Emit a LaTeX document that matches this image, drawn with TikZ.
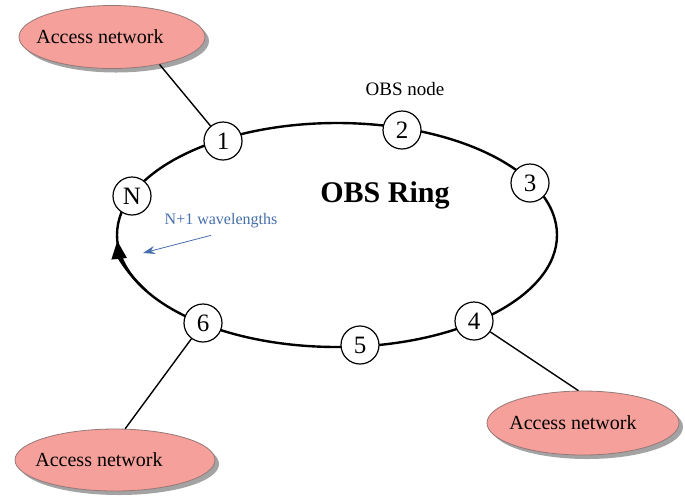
\documentclass[tikz,border=0pt]{standalone}
\usepackage{fontspec}
\setmainfont{Liberation Serif}
\usetikzlibrary{shapes.geometric,shadows,arrows.meta}
\definecolor{accfill}{RGB}{245,160,154}
\definecolor{accline}{RGB}{150,120,120}
\definecolor{wlblue}{RGB}{70,110,170}
\tikzset{
  obsnode/.style={circle,draw,fill=white,line width=0.6pt,minimum size=19pt,inner sep=0pt,font=\fontsize{12.5}{13}\selectfont},
  accnet/.style={ellipse,draw=accline,line width=0.4pt,fill=accfill,
    drop shadow={shadow xshift=2pt,shadow yshift=-2pt,fill=black!45,opacity=0.8},
    inner sep=0pt,font=\fontsize{10}{12}\selectfont},
  link/.style={line width=0.7pt}
}
\begin{document}
\begin{tikzpicture}[x=0.5pt,y=-0.5pt]
\useasboundingbox (0,0) rectangle (685,500);
% ring
\coordinate (ring) at (337,235);
\draw[line width=1.2pt] (ring) ellipse (220 and 112);
\draw[line width=1.2pt,-{Triangle[length=9pt,width=7.5pt]}] (ring) ++(150:220 and 112) arc (150:177:220 and 112);
% nodes on the ring
\node[obsnode] (n1) at (223,141) {1};
\node[obsnode] (n2) at (402,130) {2};
\node[obsnode] (n3) at (530,183) {3};
\node[obsnode] (n4) at (474,321) {4};
\node[obsnode] (n5) at (360,345) {5};
\node[obsnode] (n6) at (203,323) {6};
\node[obsnode] (nN) at (132,196) {N};
\node[font=\fontsize{9.5}{11}\selectfont] (obslbl) at (405,89) {OBS node};
\node[font=\bfseries\fontsize{15}{17}\selectfont] (ringlbl) at (385,195) {OBS Ring};
% wavelengths
\node[text=wlblue,font=\fontsize{8}{10}\selectfont] (wl) at (221,221) {N+1 wavelengths};
\coordinate (wltip) at (143,253);
\draw[wlblue,line width=0.4pt,-{Stealth[length=6pt,width=4pt]}] ([xshift=-5pt]wl.south) -- (wltip);
% access networks
\node[accnet,minimum width=93pt,minimum height=31.5pt] (acc1) at (112,37) {\kern-6pt Access network\kern6pt};
\node[accnet,minimum width=96pt,minimum height=32pt] (acc2) at (583,423) {\kern-5pt Access network\kern5pt};
\node[accnet,minimum width=100pt,minimum height=31pt] (acc3) at (115,460) {\kern-8pt Access network\kern8pt};
\draw[link] (acc1.-30) -- (n1);
\draw[link] (n4) -- (acc2.98);
\draw[link] (n6) -- (acc3.72);
\end{tikzpicture}
\end{document}
